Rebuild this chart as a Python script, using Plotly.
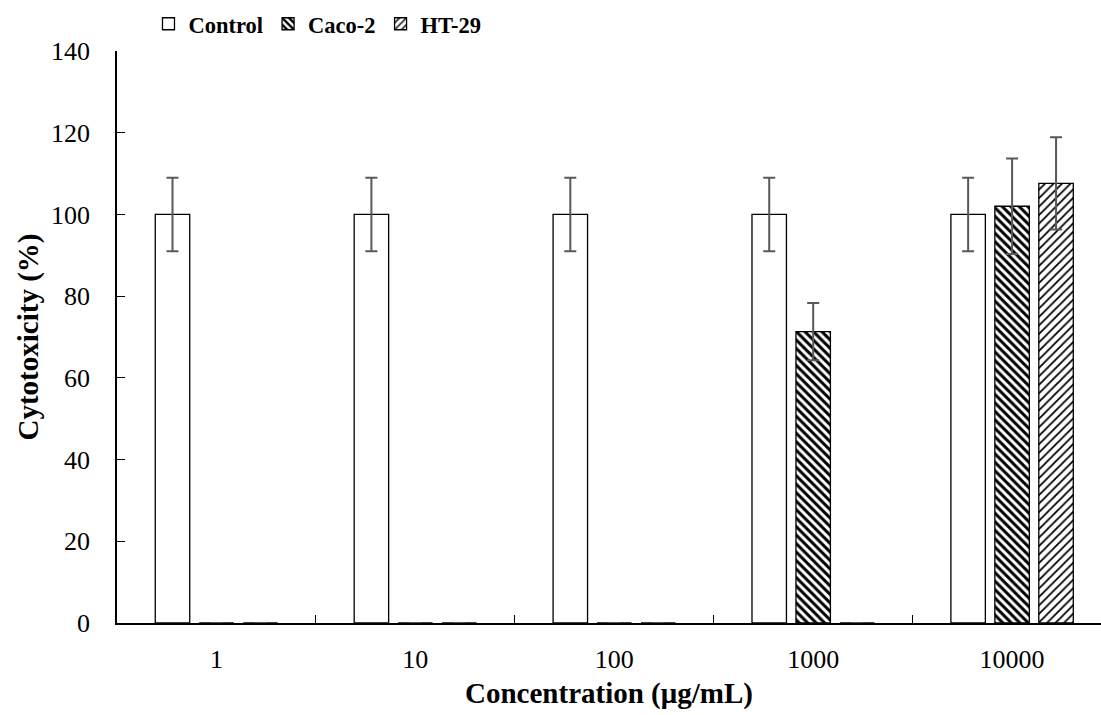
import plotly.graph_objects as go

categories = ["1", "10", "100", "1000", "10000"]
control = [100, 100, 100, 100, 100]
control_err = [9, 9, 9, 9, 9]
caco2 = [0, 0, 0, 71.3, 102.0]
caco2_err = [0, 0, 0, 7.0, 11.7]
ht29 = [0, 0, 0, 0, 107.6]
ht29_err = [0, 0, 0, 0, 11.3]

FONT = "Liberation Serif"
ERR = dict(type="data", visible=True, color="#595959", thickness=2, width=6)

fig = go.Figure()
fig.add_trace(go.Bar(
    name="Control", x=categories, y=control,
    error_y=dict(array=control_err, **ERR),
    marker=dict(color="white", line=dict(color="black", width=1.3)),
))
fig.add_trace(go.Bar(
    name="Caco-2", x=categories, y=caco2,
    error_y=dict(array=caco2_err, **ERR),
    marker=dict(color="white", line=dict(color="black", width=1.3),
                pattern=dict(shape="\\", size=6, solidity=0.5,
                             fgcolor="black", bgcolor="white", fillmode="replace")),
))
fig.add_trace(go.Bar(
    name="HT-29", x=categories, y=ht29,
    error_y=dict(array=ht29_err, **ERR),
    marker=dict(color="white", line=dict(color="black", width=1.3),
                pattern=dict(shape="/", size=6, solidity=0.3,
                             fgcolor="black", bgcolor="white", fillmode="replace")),
))

fig.update_layout(
    width=1101, height=715,
    margin=dict(l=117, r=0, t=51, b=92),
    paper_bgcolor="white", plot_bgcolor="white",
    barmode="group", bargap=0.337, bargroupgap=0.216,
    font=dict(family=FONT, color="black", size=26),
    showlegend=True,
    legend=dict(orientation="h", x=0.032, xanchor="left", y=1.047, yanchor="middle",
                font=dict(family=FONT, size=22.5, weight="bold"),
                bgcolor="rgba(0,0,0,0)", itemwidth=30, tracegroupgap=0),
    xaxis=dict(
        type="category", range=[-0.5, 4.447],
        showline=True, linecolor="black", linewidth=1.5,
        ticks="inside", tickson="boundaries", ticklen=8, tickcolor="black", tickwidth=1.3,
        showgrid=False, zeroline=False,
        tickfont=dict(family=FONT, size=26), ticklabelstandoff=12,
        title=dict(text="Concentration (μg/mL)", standoff=10,
                   font=dict(family=FONT, size=29, weight="bold")),
    ),
    yaxis=dict(
        range=[0, 140], dtick=20, tick0=0,
        showline=True, linecolor="black", linewidth=1.5,
        ticks="inside", ticklen=8, tickcolor="black", tickwidth=1.3,
        showgrid=False, zeroline=False,
        tickfont=dict(family=FONT, size=26), ticklabelstandoff=20,
        title=dict(text="Cytotoxicity (%)", standoff=4,
                   font=dict(family=FONT, size=29, weight="bold")),
    ),
)

fig.write_html("out.html")
